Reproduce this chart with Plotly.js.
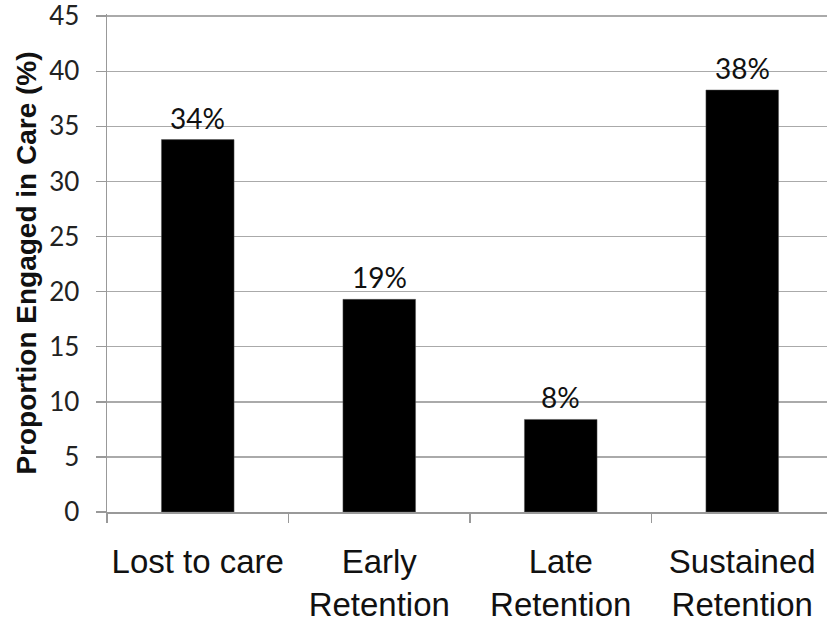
<!DOCTYPE html>
<html>
<head>
<meta charset="utf-8">
<script src="https://cdn.plot.ly/plotly-3.0.1.min.js"></script>
<style>html,body{margin:0;padding:0;background:#fff;}#chart{width:827px;height:625px;}</style>
</head>
<body>
<div id="chart"></div>
<script>
const categories = ["Lost to care", "Early<br>Retention", "Late<br>Retention", "Sustained<br>Retention"];
const values = [33.8, 19.3, 8.4, 38.3];
const labels = ["34%", "19%", "8%", "38%"];
const yMax = 45;
const yStep = 5;

const trace = {
  type: "bar",
  x: categories,
  y: values,
  width: 0.4,
  marker: {color: "#000000", line: {color: "#555", width: 0.5}},
  hoverinfo: "none"
};

const annotations = categories.map((c, i) => ({
  x: c, y: values[i], text: labels[i], showarrow: false,
  xanchor: "center", yanchor: "bottom", yshift: 3,
  font: {family: "Lato, 'Open Sans', sans-serif", size: 28, color: "#111"}
}));

const layout = {
  width: 827, height: 625,
  margin: {l: 107, r: 0, t: 14, b: 113},
  paper_bgcolor: "#ffffff", plot_bgcolor: "#ffffff",
  showlegend: false,
  xaxis: {
    type: "category",
    range: [-0.5, 3.467],
    showgrid: false,
    showline: true, linecolor: "#999", linewidth: 1.5,
    ticks: "outside", tickson: "boundaries", ticklen: 9, tickcolor: "#999", tickwidth: 1.5,
    tickangle: 0,
    tickfont: {family: "'Liberation Sans', Arial, sans-serif", size: 33, color: "#111"},
    ticklabelstandoff: 20,
    zeroline: false
  },
  yaxis: {
    autorange: false,
    range: [0, yMax + 0.2],
    tickmode: "linear", tick0: 0, dtick: yStep,
    showgrid: true, gridcolor: "#aaa", gridwidth: 1.5,
    showline: true, linecolor: "#999", linewidth: 1.5,
    ticks: "outside", ticklen: 10, tickcolor: "#999", tickwidth: 1.5,
    tickfont: {family: "Lato, 'Open Sans', sans-serif", size: 26, color: "#222"},
    ticklabelstandoff: 11,
    ticklabeloverflow: "allow",
    zeroline: false,
    title: {
      text: "Proportion Engaged in Care (%)",
      font: {family: "'Liberation Sans', Arial, sans-serif", size: 28, color: "#111", weight: "bold"},
      standoff: 4
    }
  },
  annotations: annotations
};

Plotly.newPlot("chart", [trace], layout, {displayModeBar: false, staticPlot: true});
</script>
</body>
</html>
